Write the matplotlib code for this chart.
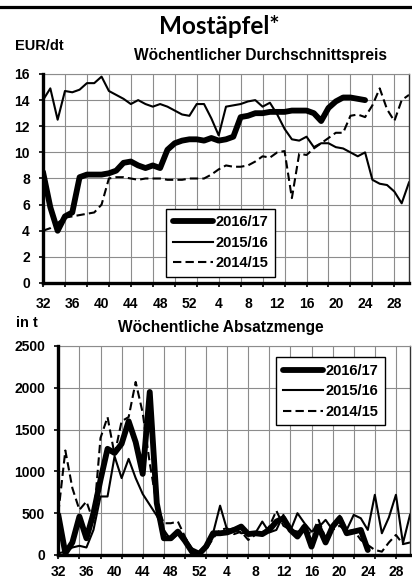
import numpy as np
import matplotlib.pyplot as plt
from matplotlib.lines import Line2D

plt.rcParams['font.family'] = ['Liberation Sans', 'DejaVu Sans']
plt.rcParams['font.weight'] = 'bold'

# calendar weeks of the marketing season: 32..52, then 1..30
weeks = list(range(32, 53)) + list(range(1, 31))
tick_weeks = [32, 36, 40, 44, 48, 52, 4, 8, 12, 16, 20, 24, 28]
seasons = ['2016/17', '2015/16', '2014/15']

# weekly average price, EUR/dt
price_1617 = [8.5, 5.8, 4.0, 5.1, 5.4, 8.1, 8.3, 8.3, 8.3, 8.4, 8.6, 9.2, 9.3, 9.0, 8.8,
              9.0, 8.8, 10.2, 10.7, 10.9, 11.0, 11.0, 10.9, 11.1, 10.9, 11.0, 11.2, 12.7,
              12.8, 13.0, 13.0, 13.1, 13.1, 13.1, 13.2, 13.2, 13.2, 13.0, 12.4, 13.4, 13.9,
              14.2, 14.2, 14.1, 14.0]
price_1516 = [14.0, 14.9, 12.5, 14.7, 14.6, 14.8, 15.3, 15.3, 15.8, 14.7, 14.4, 14.1, 13.7,
              14.0, 13.7, 13.5, 13.7, 13.5, 13.2, 12.9, 12.8, 13.7, 13.7, 12.6, 11.3, 13.5,
              13.6, 13.7, 13.9, 14.0, 13.5, 13.8, 12.9, 11.8, 11.0, 10.9, 11.2, 10.4, 10.7,
              10.7, 10.4, 10.3, 10.0, 9.7, 10.0, 7.9, 7.6, 7.5, 7.0, 6.1, 7.7]
price_1415 = [4.0, 4.2, 4.6, 5.0, 5.1, 5.2, 5.3, 5.4, 6.0, 8.0, 8.1, 8.1, 8.0, 7.9, 8.0,
              8.0, 8.0, 7.9, 7.9, 7.9, 8.0, 8.0, 8.0, 8.3, 8.7, 9.0, 8.9, 8.9, 9.0, 9.3,
              9.7, 9.6, 10.0, 10.1, 6.5, 9.9, 9.8, 10.3, 10.7, 11.1, 11.5, 11.5, 12.8, 12.9,
              12.7, 13.6, 14.9, 13.3, 12.4, 14.0, 14.4]

# weekly sales volume, t
qty_1617 = [480, 20, 150, 460, 200, 500, 900, 1270, 1220, 1330, 1600, 1350, 970, 1950, 620,
            200, 200, 280, 170, 40, 10, 100, 260, 260, 270, 300, 340, 250, 260, 250, 300,
            400, 440, 300, 220, 340, 100, 340, 150, 340, 440, 260, 280, 300, 60]
qty_1516 = [20, 40, 90, 110, 90, 300, 700, 700, 1180, 920, 1150, 920, 730, 600, 470, 300,
            180, 250, 200, 80, 40, 120, 260, 590, 300, 320, 260, 270, 260, 400, 270, 300,
            480, 290, 500, 380, 280, 330, 420, 300, 470, 300, 480, 440, 300, 720, 260, 450,
            720, 140, 480]
qty_1415 = [500, 1250, 800, 540, 640, 400, 1400, 1650, 1200, 1600, 1650, 2070, 1700, 1100,
            600, 380, 380, 400, 220, 60, 20, 60, 200, 300, 320, 250, 280, 180, 240, 260,
            340, 530, 350, 300, 280, 300, 250, 420, 200, 300, 350, 280, 300, 180, 120, 60,
            40, 150, 240, 130, 150]

GRID = '#8c8c8c'


def week_pos(w):
    return weeks.index(w)


def draw_series(ax, series, thick_lw):
    x = np.arange(len(weeks))
    l1, = ax.plot(x[:len(series[0])], series[0], color='black', lw=thick_lw,
                  solid_capstyle='round', solid_joinstyle='round', label=seasons[0])
    l2, = ax.plot(x[:len(series[1])], series[1], color='black', lw=1.5,
                  solid_joinstyle='round', label=seasons[1])
    l3, = ax.plot(x[:len(series[2])], series[2], color='black', lw=1.5,
                  dashes=(4, 2), label=seasons[2])
    return [l1, l2, l3]


def style_axes(ax, ymax, ystep, xlab_pad):
    ax.set_xlim(0, 50.0)
    ax.set_ylim(0, ymax)
    ax.set_yticks(np.arange(0, ymax + 1, ystep))
    ax.xaxis.remove_overlapping_locs = False
    ax.set_xticks([week_pos(w) for w in tick_weeks])
    ax.set_xticklabels([str(w) for w in tick_weeks])
    ax.set_xticks(range(0, len(weeks), 3), minor=True)
    ax.tick_params(axis='x', which='major', length=0, pad=xlab_pad, labelsize=10)
    ax.tick_params(axis='x', which='minor', length=3, width=1.2, direction='out')
    ax.tick_params(axis='y', which='major', length=3, width=1.2, direction='out',
                   pad=6.5, labelsize=10)
    ax.grid(True, axis='y', which='major', color=GRID, lw=0.8)
    ax.grid(True, axis='x', which='minor', color=GRID, lw=0.8)
    ax.set_axisbelow(True)
    for side in ('left', 'bottom'):
        ax.spines[side].set_linewidth(2.4)
        ax.spines[side].set_color('black')
        ax.spines[side].set_zorder(5)
    ax.spines['top'].set_linewidth(0.8)
    ax.spines['top'].set_color(GRID)
    ax.spines['right'].set_linewidth(1.0)
    ax.spines['right'].set_color('#333333')


def add_legend(ax, handles, loc, anchor):
    leg = ax.legend(handles=handles, loc=loc, bbox_to_anchor=anchor,
                    frameon=True, fancybox=False, framealpha=1, edgecolor='black',
                    fontsize=10.5, handlelength=2.8, handletextpad=0.15,
                    labelspacing=0.45, borderpad=0.45, borderaxespad=0)
    leg.get_frame().set_linewidth(1.0)
    return leg


W, H = 412, 580
fig = plt.figure(figsize=(W / 100, H / 100), dpi=100)

# top rule
fig.add_artist(Line2D([0, 1], [1 - 6.5 / H, 1 - 6.5 / H], color='black', lw=2.3))

fig.text(219.5 / W, 1 - 33.5 / H, 'Mostäpfel*', ha='center', va='baseline',
         fontsize=17.5, fontweight='bold', family=['Lato', 'DejaVu Sans'])
fig.text(15 / W, 1 - 50 / H, 'EUR/dt', ha='left', va='baseline', fontsize=10.5)
fig.text(261 / W, 1 - 60 / H, 'Wöchentlicher Durchschnittspreis', ha='center',
         va='baseline', fontsize=11.2)
fig.text(16 / W, 1 - 327 / H, 'in t', ha='left', va='baseline', fontsize=10.5)
fig.text(221 / W, 1 - 332 / H, 'Wöchentliche Absatzmenge', ha='center',
         va='baseline', fontsize=11.2)

# price chart
ax1 = fig.add_axes([43 / W, 1 - 283 / H, 366 / W, 209 / H])
style_axes(ax1, 16, 2, 10)
h1 = draw_series(ax1, [price_1617, price_1516, price_1415], 4.2)
add_legend(ax1, h1, 'lower left', (0.336, 0.029))

# volume chart
ax2 = fig.add_axes([58.3 / W, 1 - 555 / H, 351.7 / W, 209 / H])
style_axes(ax2, 2500, 500, 7.5)
h2 = draw_series(ax2, [qty_1617, qty_1516, qty_1415], 4.2)
add_legend(ax2, h2, 'upper left', (0.619, 0.947))

fig.savefig('out.png', dpi=100)
